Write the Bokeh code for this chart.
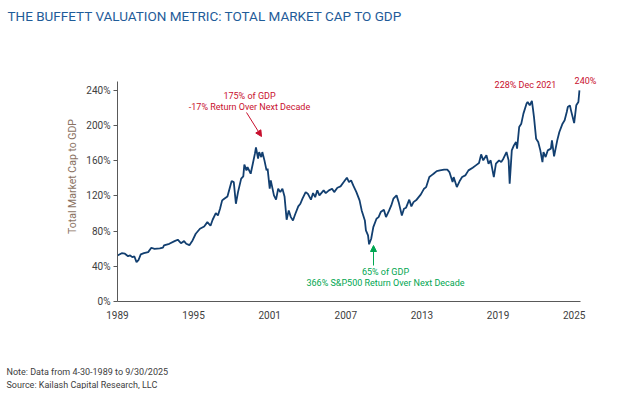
import math
from bokeh.plotting import figure
from bokeh.models import Label, Arrow, NormalHead, FixedTicker, Range1d, LinearAxis
from bokeh.embed import file_html
from bokeh.resources import INLINE

# ---------------- data (month, % of GDP) ----------------
dates = [
    "1989-04", "1989-08", "1989-11", "1990-02", "1990-04", "1990-06", "1990-08", "1990-10", "1990-12",
    "1991-02", "1991-05", "1991-09", "1991-12", "1992-03", "1992-08", "1992-11", "1992-12", "1993-05",
    "1993-10", "1994-01", "1994-04", "1994-07", "1994-09", "1994-12", "1995-03", "1995-06", "1995-10",
    "1996-02", "1996-05", "1996-08", "1996-10", "1997-01", "1997-03", "1997-05", "1997-07", "1997-09",
    "1997-12", "1998-02", "1998-04", "1998-06", "1998-08", "1998-10", "1999-01", "1999-03", "1999-04",
    "1999-06", "1999-07", "1999-10", "1999-12", "2000-02", "2000-03", "2000-05", "2000-06", "2000-08",
    "2000-09", "2000-11", "2001-01", "2001-02", "2001-04", "2001-05", "2001-08", "2001-10", "2001-12",
    "2002-02", "2002-04", "2002-06", "2002-08", "2002-10", "2002-12", "2003-02", "2003-04", "2003-07",
    "2003-09", "2003-11", "2004-02", "2004-04", "2004-07", "2004-09", "2004-11", "2005-01", "2005-03",
    "2005-07", "2005-09", "2005-12", "2006-03", "2006-05", "2006-08", "2006-11", "2007-02", "2007-05",
    "2007-07", "2007-09", "2007-11", "2008-02", "2008-05", "2008-07", "2008-10", "2008-11", "2009-01",
    "2009-02", "2009-04", "2009-06", "2009-09", "2009-11", "2010-01", "2010-04", "2010-06", "2010-09",
    "2010-11", "2011-01", "2011-04", "2011-06", "2011-09", "2011-11", "2012-01", "2012-04", "2012-06",
    "2012-08", "2012-11", "2013-03", "2013-06", "2013-08", "2013-11", "2014-01", "2014-03", "2014-06",
    "2014-09", "2015-01", "2015-04", "2015-06", "2015-09", "2015-10", "2016-01", "2016-04", "2016-06",
    "2016-09", "2016-12", "2017-04", "2017-07", "2017-10", "2017-12", "2018-02", "2018-05", "2018-07",
    "2018-09", "2018-12", "2019-02", "2019-05", "2019-07", "2019-09", "2019-12", "2020-02", "2020-03",
    "2020-05", "2020-07", "2020-09", "2020-10", "2020-12", "2021-02", "2021-04", "2021-07", "2021-08",
    "2021-10", "2021-12", "2022-01", "2022-02", "2022-04", "2022-06", "2022-08", "2022-10", "2022-11",
    "2023-01", "2023-03", "2023-06", "2023-07", "2023-09", "2023-12", "2024-02", "2024-05", "2024-07",
    "2024-09", "2024-10", "2024-12", "2025-01", "2025-04", "2025-06", "2025-08", "2025-09",
]
mcap_gdp = [
    52.3, 54.9, 54.3, 51.5, 52.3, 50.4, 51.2, 44.7, 47.4,
    53.5, 54.9, 56.1, 61.1, 59.9, 60.3, 61.1, 63.7, 65.6,
    68.6, 70.2, 66.3, 68.6, 65.6, 64.0, 69.4, 77.0, 82.7,
    85.3, 90.2, 86.1, 92.9, 100.4, 97.8, 105.4, 114.9, 116.8,
    119.4, 128.2, 136.8, 135.7, 111.1, 124.3, 139.6, 142.2, 155.5,
    149.0, 152.8, 145.2, 156.6, 168.0, 175.0, 162.3, 169.8, 164.1,
    169.8, 160.4, 149.0, 150.9, 128.2, 137.6, 120.6, 115.7, 128.2,
    124.3, 128.2, 119.4, 92.9, 103.5, 95.9, 92.1, 98.9, 108.1,
    111.1, 116.8, 124.3, 122.5, 115.7, 123.2, 118.6, 126.3, 120.6,
    126.3, 123.2, 126.3, 128.2, 124.3, 129.3, 130.8, 135.7, 140.7,
    135.7, 137.6, 131.9, 124.3, 114.9, 103.5, 92.1, 80.8, 75.1,
    65.0, 71.3, 84.5, 94.1, 95.9, 101.6, 104.3, 95.9, 103.5,
    109.2, 116.8, 120.6, 112.9, 97.8, 105.4, 106.6, 115.7, 108.1,
    112.9, 115.7, 121.7, 128.2, 130.0, 141.4, 143.3, 145.2, 148.2,
    149.0, 149.8, 149.8, 147.1, 135.7, 141.4, 130.0, 137.6, 141.4,
    143.3, 149.0, 152.1, 154.7, 157.3, 167.2, 160.4, 166.1, 156.6,
    160.4, 141.4, 156.6, 160.4, 158.4, 162.3, 169.8, 160.4, 133.9,
    171.7, 177.4, 181.2, 173.7, 198.3, 202.1, 213.5, 224.9, 226.7,
    222.9, 228.0, 219.2, 209.6, 185.0, 181.2, 171.7, 158.4, 169.8,
    164.1, 171.7, 173.7, 183.1, 164.9, 183.1, 192.6, 202.1, 205.9,
    215.3, 221.0, 222.9, 217.2, 202.8, 222.9, 226.7, 240.0,
]
tick_years = ["1989", "1995", "2001", "2007", "2013", "2019", "2025"]
y_ticks = [0, 40, 80, 120, 160, 200, 240]
X_END = 438     # months shown on the x axis
Y_END = 250     # top of the y axis (%)

# month index from April 1989
months = [(int(d[:4]) - 1989) * 12 + int(d[5:7]) - 4 for d in dates]
tick_pos = [(int(y) - 1989) * 12 for y in tick_years]

FONT = "Roboto"
LINE = "#123F70"
RED = "#C8102E"
GREEN = "#00A651"
W, H = 613, 389
FL, FT, FR, FB = 117, 81, 580, 301   # plot-area edges in canvas pixels

sx = X_END / (FR - FL)
sy = Y_END / (FB - FT)
p = figure(width=W, height=H, output_backend="svg", toolbar_location=None,
           x_range=Range1d(-FL * sx, (W - FL) * sx),
           y_range=Range1d(-(H - FB) * sy, FB * sy),
           x_axis_type=None, y_axis_type=None,
           min_border=0)
p.outline_line_color = None
p.grid.grid_line_color = None
p.background_fill_color = "white"

p.line(months, mcap_gdp, line_color=LINE, line_width=1.8)

# axes fixed at the origin, bounded to the data area
xaxis = LinearAxis(fixed_location=0, bounds=(0, X_END), ticker=FixedTicker(ticks=tick_pos),
                   major_label_overrides={tp: t for tp, t in zip(tick_pos, tick_years)})
yaxis = LinearAxis(fixed_location=0, bounds=(0, Y_END), ticker=FixedTicker(ticks=y_ticks),
                   major_label_overrides={v: f"{v}%" for v in y_ticks})
p.add_layout(xaxis, "below")
p.add_layout(yaxis, "left")
for ax in (xaxis, yaxis):
    ax.axis_line_color = "#595959"
    ax.major_tick_line_color = "#595959"
    ax.minor_tick_line_color = None
    ax.major_label_text_font = FONT
    ax.major_label_text_font_size = "10px"
    ax.major_label_text_color = "#404040"
xaxis.major_tick_line_color = None
xaxis.major_label_standoff = 3
yaxis.major_tick_in = 0
yaxis.major_tick_out = 4
yaxis.major_label_standoff = 3

def px2x(px):
    return (px - FL) * sx

def py2y(py):
    return (FB - py) * sy

def lab(text, px, py, color, size="9px", align="center", angle=0):
    p.add_layout(Label(x=px2x(px), y=py2y(py), text=text, text_color=color,
                       text_font=FONT, text_font_size=size, text_align=align,
                       text_baseline="middle", angle=angle))

# title, axis title and notes
lab("THE BUFFETT VALUATION METRIC: TOTAL MARKET CAP TO GDP", 7, 15, "#1F5C99", size="13.5px", align="left")
lab("Total Market Cap to GDP", 72, 176, "#8A7262", size="10.5px", angle=math.pi / 2)
lab("Note: Data from 4-30-1989 to 9/30/2025", 6, 371, "#404040", size="9px", align="left")
lab("Source: Kailash Capital Research, LLC", 6, 384, "#404040", size="9px", align="left")

# annotations
lab("175% of GDP", 249, 95, RED)
lab("-17% Return Over Next Decade", 249, 106, RED)
p.add_layout(Arrow(x_start=px2x(246), y_start=py2y(112), x_end=px2x(261), y_end=py2y(136),
                   line_color=RED, line_width=1,
                   end=NormalHead(size=6, fill_color=RED, line_color=RED)))
lab("65% of GDP", 385, 271, GREEN)
lab("366% S&P500 Return Over Next Decade", 385, 282, GREEN)
p.add_layout(Arrow(x_start=px2x(373), y_start=py2y(265), x_end=px2x(373), y_end=py2y(245),
                   line_color=GREEN, line_width=1,
                   end=NormalHead(size=6, fill_color=GREEN, line_color=GREEN)))
lab("228% Dec 2021", 525, 84, RED)
lab("240%", 585, 80, RED)

open("out.html", "w").write(file_html(p, INLINE))
